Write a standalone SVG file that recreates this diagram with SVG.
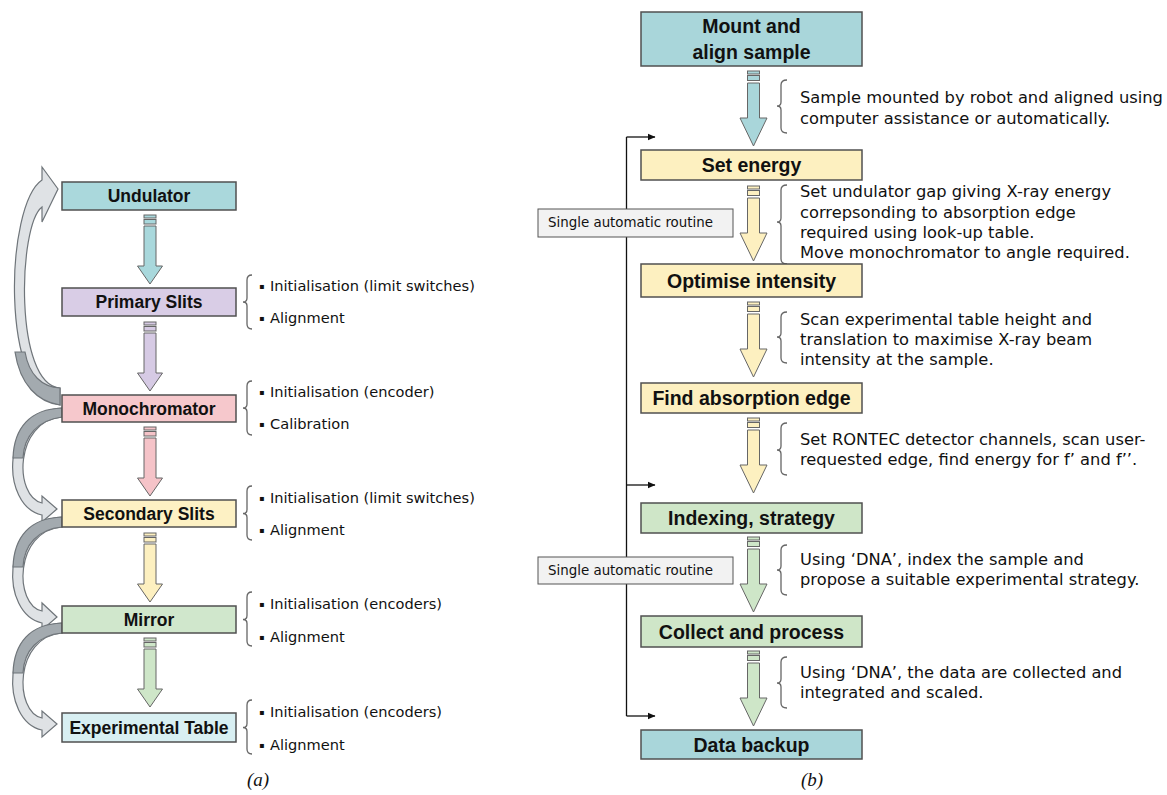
<svg xmlns="http://www.w3.org/2000/svg" width="1167" height="795" viewBox="0 0 1167 795">
<style>
.box{stroke:#505050;stroke-width:1.5}
.bt{font-family:"Liberation Sans",Arial,sans-serif;font-weight:bold;fill:#111;text-anchor:middle}
.l{font-size:17.5px}
.r{font-size:19.5px}
.note{font-family:"DejaVu Sans",Verdana,sans-serif;fill:#111}
.nl{font-size:14.6px}
.nr{font-size:16.3px}
.bul{font-size:8px}
.brace{fill:none;stroke:#666;stroke-width:1.3}
.arr{stroke:#666;stroke-width:1}
.curl{fill:#dfe2e5;stroke:#6f757a;stroke-width:1.2}
.curd{fill:#a3aaaf;stroke:#6f757a;stroke-width:1.2}
.ln{fill:none;stroke:#111;stroke-width:1.3}
.cap{font-family:"Liberation Serif","Times New Roman",serif;font-style:italic;font-size:19px;fill:#111;text-anchor:middle}
</style>
<defs>
<g id="arL" class="arr">
<rect x="-6" y="0" width="12" height="3"/>
<rect x="-6" y="4.5" width="12" height="4.5"/>
<path d="M-6,11 H6 V51 H12.5 L0,69 L-12.5,51 H-6 Z"/>
</g>
<g id="arR" class="arr">
<rect x="-6" y="0" width="12" height="3"/>
<rect x="-6" y="4.5" width="12" height="5"/>
<path d="M-6,12 H6 V47 H13.5 L0,75 L-13.5,47 H-6 Z"/>
</g>
<marker id="ah" markerWidth="8" markerHeight="8" refX="7" refY="4" orient="auto" markerUnits="userSpaceOnUse">
<path d="M0,0.8 L7.5,4 L0,7.2 Z" fill="#111"/>
</marker>
</defs>
<rect width="1167" height="795" fill="#fff"/>

<g id="connectors">
<path class="curl" d="M60,405 C0,395 5,205 42,180 L42,167 L58,189 L42,222 L42,207 C18,225 14,385 60,388 Z"/>
<path class="curd" d="M60,405 C38,402 20,385 15,352 L25,352 C29,375 42,387 60,388 Z"/>
<path class="curl" d="M62,408 C0,411 0,506 42,515 L42,522 L57,509 L42,496 L42,503 C14,497 14,421 62,417 Z"/>
<path class="curd" d="M62,408 C30,409 14,428 13,458 L23,458 C24,436 38,420 62,417 Z"/>
<path class="curl" d="M62,517 C0,520 0,614 42,623 L42,630 L57,617 L42,603 L42,611 C14,605 14,531 62,527 Z"/>
<path class="curd" d="M62,517 C30,518 14,537 13,567 L23,567 C24,545 38,529 62,527 Z"/>
<path class="curl" d="M62,623 C0,626 0,721 42,730 L42,737 L57,724 L42,711 L42,718 C14,712 14,637 62,633 Z"/>
<path class="curd" d="M62,623 C30,624 14,643 13,673 L23,673 C24,651 38,635 62,633 Z"/>
<use href="#arL" x="150" y="215" fill="#a9d8dc"/>
<use href="#arL" x="150" y="322" fill="#d6cae4"/>
<use href="#arL" x="150" y="427" fill="#f5c3c8"/>
<use href="#arL" x="150" y="533" fill="#fdf0c0"/>
<use href="#arL" x="150" y="638" fill="#cee6c8"/>
<use href="#arR" x="753.5" y="71" fill="#a9d6da"/>
<use href="#arR" x="753.5" y="186" fill="#fdf0c0"/>
<use href="#arR" x="753.5" y="302" fill="#fdf0c0"/>
<use href="#arR" x="753.5" y="418" fill="#fdf0c0"/>
<use href="#arR" x="753.5" y="537" fill="#cee6c8"/>
<use href="#arR" x="753.5" y="651" fill="#cee6c8"/>
<path class="ln" d="M626.5,716 V137"/>
<path class="ln" d="M626.5,137 H655" marker-end="url(#ah)"/>
<path class="ln" d="M626.5,485 H655" marker-end="url(#ah)"/>
<path class="ln" d="M626.5,716 H655" marker-end="url(#ah)"/>
</g>

<g id="undulator">
<rect class="box" x="62" y="182" width="174" height="28" fill="#aad8dc"/>
<text class="bt l" x="149" y="202">Undulator</text>
</g>
<g id="primary-slits">
<rect class="box" x="62" y="288" width="174" height="28" fill="#d9cde6"/>
<text class="bt l" x="149" y="308">Primary Slits</text>
<path class="brace" d="M252,275 Q247,275 247,280 V298 Q247,302 243,302 Q247,302 247,306 V324 Q247,329 252,329"/>
<text class="note nl"><tspan class="bul" x="259" y="289">▪</tspan><tspan x="270" y="291">Initialisation (limit switches)</tspan></text>
<text class="note nl"><tspan class="bul" x="259" y="321">▪</tspan><tspan x="270" y="323">Alignment</tspan></text>
</g>
<g id="monochromator">
<rect class="box" x="62" y="395" width="174" height="27" fill="#f6c8cc"/>
<text class="bt l" x="149" y="414.5">Monochromator</text>
<path class="brace" d="M252,381 Q247,381 247,386 V404 Q247,408 243,408 Q247,408 247,412 V430 Q247,435 252,435"/>
<text class="note nl"><tspan class="bul" x="259" y="395">▪</tspan><tspan x="270" y="397">Initialisation (encoder)</tspan></text>
<text class="note nl"><tspan class="bul" x="259" y="427">▪</tspan><tspan x="270" y="429">Calibration</tspan></text>
</g>
<g id="secondary-slits">
<rect class="box" x="62" y="500" width="174" height="27" fill="#fdf1c4"/>
<text class="bt l" x="149" y="519.5">Secondary Slits</text>
<path class="brace" d="M252,486 Q247,486 247,491 V509.5 Q247,513.5 243,513.5 Q247,513.5 247,517.5 V535 Q247,540 252,540"/>
<text class="note nl"><tspan class="bul" x="259" y="501">▪</tspan><tspan x="270" y="503">Initialisation (limit switches)</tspan></text>
<text class="note nl"><tspan class="bul" x="259" y="533">▪</tspan><tspan x="270" y="535">Alignment</tspan></text>
</g>
<g id="mirror">
<rect class="box" x="62" y="606" width="174" height="27" fill="#d0e7cc"/>
<text class="bt l" x="149" y="625.5">Mirror</text>
<path class="brace" d="M252,592 Q247,592 247,597 V615.5 Q247,619.5 243,619.5 Q247,619.5 247,623.5 V641 Q247,646 252,646"/>
<text class="note nl"><tspan class="bul" x="259" y="607">▪</tspan><tspan x="270" y="609">Initialisation (encoders)</tspan></text>
<text class="note nl"><tspan class="bul" x="259" y="640">▪</tspan><tspan x="270" y="642">Alignment</tspan></text>
</g>
<g id="experimental-table">
<rect class="box" x="62" y="713" width="174" height="29" fill="#d8eff2"/>
<text class="bt l" x="149" y="734">Experimental Table</text>
<path class="brace" d="M252,700 Q247,700 247,705 V723.5 Q247,727.5 243,727.5 Q247,727.5 247,731.5 V749 Q247,754 252,754"/>
<text class="note nl"><tspan class="bul" x="259" y="715">▪</tspan><tspan x="270" y="717">Initialisation (encoders)</tspan></text>
<text class="note nl"><tspan class="bul" x="259" y="748">▪</tspan><tspan x="270" y="750">Alignment</tspan></text>
</g>
<text class="cap" x="258" y="786">(a)</text>

<g id="mount">
<rect class="box" x="641" y="12" width="221" height="54" fill="#a9d6da"/>
<text class="bt r" x="751.5" y="33">Mount and</text>
<text class="bt r" x="751.5" y="59">align sample</text>
<path class="brace" d="M787,80 Q781,80 781,85 V102 Q781,106 777,106 Q781,106 781,110 V128 Q781,133 787,133"/>
<text class="note nr" x="800" y="103">Sample mounted by robot and aligned using</text>
<text class="note nr" x="800" y="124">computer assistance or automatically.</text>
</g>
<g id="set-energy">
<rect class="box" x="641" y="150" width="221" height="30" fill="#fdf0c0"/>
<text class="bt r" x="751.5" y="172">Set energy</text>
<path class="brace" d="M787,185 Q781,185 781,190 V218 Q781,222 777,222 Q781,222 781,226 V259 Q781,264 787,264"/>
<text class="note nr" x="800" y="197">Set undulator gap giving X-ray energy</text>
<text class="note nr" x="800" y="218">correpsonding to absorption edge</text>
<text class="note nr" x="800" y="238">required using look-up table.</text>
<text class="note nr" x="800" y="258">Move monochromator to angle required.</text>
</g>
<g id="optimise-intensity">
<rect class="box" x="641" y="264" width="221" height="33" fill="#fdf0c0"/>
<text class="bt r" x="751.5" y="287.5">Optimise intensity</text>
<path class="brace" d="M787,312 Q781,312 781,317 V333 Q781,337 777,337 Q781,337 781,341 V358 Q781,363 787,363"/>
<text class="note nr" x="800" y="325">Scan experimental table height and</text>
<text class="note nr" x="800" y="345">translation to maximise X-ray beam</text>
<text class="note nr" x="800" y="365">intensity at the sample.</text>
</g>
<g id="find-absorption-edge">
<rect class="box" x="641" y="383" width="221" height="30" fill="#fdf0c0"/>
<text class="bt r" x="751.5" y="405">Find absorption edge</text>
<path class="brace" d="M787,423 Q781,423 781,428 V446 Q781,450 777,450 Q781,450 781,454 V470 Q781,475 787,475"/>
<text class="note nr" x="800" y="445">Set RONTEC detector channels, scan user-</text>
<text class="note nr" x="800" y="465">requested edge, find energy for f’ and f’’.</text>
</g>
<g id="indexing-strategy">
<rect class="box" x="641" y="503" width="221" height="30" fill="#cfe6c8"/>
<text class="bt r" x="751.5" y="525">Indexing, strategy</text>
<path class="brace" d="M787,545 Q781,545 781,550 V566 Q781,570 777,570 Q781,570 781,574 V590 Q781,595 787,595"/>
<text class="note nr" x="800" y="565">Using ‘DNA’, index the sample and</text>
<text class="note nr" x="800" y="585">propose a suitable experimental strategy.</text>
</g>
<g id="collect-process">
<rect class="box" x="641" y="616" width="221" height="31" fill="#cfe6c8"/>
<text class="bt r" x="751.5" y="638.5">Collect and process</text>
<path class="brace" d="M787,657 Q781,657 781,662 V679 Q781,683 777,683 Q781,683 781,687 V703 Q781,708 787,708"/>
<text class="note nr" x="800" y="678">Using ‘DNA’, the data are collected and</text>
<text class="note nr" x="800" y="698">integrated and scaled.</text>
</g>
<g id="data-backup">
<rect class="box" x="641" y="730" width="221" height="29" fill="#a9d6da"/>
<text class="bt r" x="751.5" y="751.5">Data backup</text>
</g>
<g id="routine-1">
<rect x="538" y="209" width="195" height="28" fill="#f2f2f2" stroke="#555" stroke-width="1"/>
<text class="note" font-size="13.4" x="548" y="227">Single automatic routine</text>
</g>
<g id="routine-2">
<rect x="538" y="557" width="195" height="27" fill="#f2f2f2" stroke="#555" stroke-width="1"/>
<text class="note" font-size="13.4" x="548" y="575">Single automatic routine</text>
</g>
<text class="cap" x="812" y="786">(b)</text>
</svg>
